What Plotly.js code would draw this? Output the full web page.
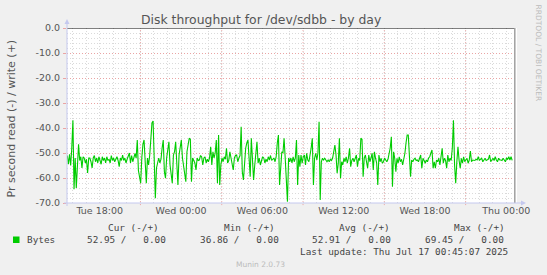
<!DOCTYPE html>
<html>
<head>
<meta charset="utf-8">
<script src="https://cdn.plot.ly/plotly-3.0.1.min.js"></script>
<style>html,body{margin:0;padding:0;background:#F0F0F0;}#chart{width:547px;height:275px;}</style>
</head>
<body>
<div id="chart"></div>
<script>
// ---- data ----
var seriesStart = '2025-07-15T15:36:00Z';
var stepMinutes = 5;
var readValues = [
-51, -54.5, -50.5, -55, -48, -36.9, -64.5, -52, -64, -53,
-46.5, -53, -51.5, -56, -51.5, -52, -54, -52.5, -58, -52,
-52, -53.5, -56, -52, -51, -53.5, -52, -54, -51.5, -53,
-54.5, -51.5, -53, -52, -54, -51.5, -53, -52.5, -54, -51,
-53, -52, -53.5, -52.5, -51.5, -53, -55.5, -52, -53, -50.8,
-53, -52, -54, -52.5, -51, -50, -54, -51, -53.5, -52,
-50.2, -52, -44.8, -57, -60, -62.1, -52, -46.5, -44.8, -53.5,
-62.1, -52, -54.8, -51, -42.8, -38, -37.2, -54.8, -68.1, -56,
-53.5, -52, -54, -52.5, -48, -44.8, -57.5, -60.1, -52, -48,
-45.5, -54.8, -58, -62.1, -50.8, -49.5, -45.5, -54.8, -62.8, -50.8,
-48, -44.8, -52, -54.8, -57, -61.5, -49.5, -45.5, -44.1, -44.5,
-61.5, -52, -53.5, -54, -56.8, -52, -53, -52.8, -51, -51.5,
-54.8, -52, -51.5, -54, -52.5, -53.5, -52, -47.5, -54.8, -49.5,
-52, -50, -44.8, -62.1, -42.8, -62.8, -54.8, -52, -53.5, -51.5,
-52.5, -48.1, -54, -53, -49.5, -52, -54, -56.8, -52, -51,
-50.8, -53.5, -52, -51, -39.5, -57.5, -60.8, -54.1, -48.1, -46,
-44.8, -52, -59.5, -44.1, -54.8, -60.8, -55, -48.1, -45.5, -54.1,
-52, -54.8, -53.5, -51.5, -52, -54, -52.5, -53.5, -51.5, -52.8,
-51, -53, -52.5, -52, -53.5, -51.5, -46, -42.8, -62.8, -53.5,
-49.5, -50, -44.1, -52, -60, -69.45, -52, -53.5, -52, -54,
-51.5, -53.5, -52, -44.8, -62.8, -50.8, -55.5, -50.8, -54.1, -51.5,
-50.8, -54.8, -50.1, -52.8, -53.5, -51, -48, -44.1, -62.8, -52.1,
-50.1, -52.8, -50, -37.5, -68.8, -53.5, -52.1, -52.8, -52.1, -52.8,
-53.5, -52.8, -53.5, -52.5, -53, -52, -50, -46.8, -50.8, -58.1,
-54.1, -44.1, -60.1, -53.5, -54.8, -52.1, -53.5, -51.5, -54.1, -52,
-48.1, -55.5, -53, -52.1, -53.5, -52, -50.8, -55.5, -52.1, -53,
-44.1, -44.5, -59.5, -52, -50.8, -53.5, -56.1, -50.8, -53.5, -52,
-50.1, -56.8, -49.5, -52.1, -54, -62.8, -50.8, -53.5, -52.1, -54.1,
-53.5, -52.1, -53, -53.5, -52.5, -50.8, -48, -43.5, -63.5, -49.5,
-52.1, -57.5, -52.1, -54.1, -51.5, -53.5, -52.5, -54.8, -53, -50.1,
-46, -42.8, -42.8, -55, -59.5, -52.8, -53.5, -52.5, -52.1, -53,
-52.8, -53.5, -52, -50.8, -56.1, -52.1, -53, -54.1, -52.8, -53.5,
-52, -51.5, -50, -48.8, -56.1, -53.5, -56.1, -52.8, -53.5, -52.1,
-54.8, -51, -48.1, -54.1, -52.1, -53, -56.1, -50.8, -53.5, -52.1,
-53, -48, -36.86, -54.8, -62.1, -53.5, -47.5, -53, -56.1, -52.1,
-54.1, -51.5, -53.5, -52.8, -52.1, -54.1, -52.8, -49.2, -53.5, -52.8,
-52.8, -53, -52.5, -52.8, -51.5, -53, -52.5, -52.1, -53.5, -52.8,
-52.1, -53, -52.8, -52.5, -50.8, -53.5, -52.8, -52.1, -53, -51.5,
-52.8, -53.5, -52.1, -52.8, -52.8, -53, -52.1, -52.8, -53.5, -52.1,
-52.5, -51.5, -52.8, -51.5, -52.95
];
var xRange = ['2025-07-15 15:34:48', '2025-07-17 00:47:24'];
var xTickStart = '2025-07-15 18:00';
var redGridStart = '2025-07-15T21:00:00Z';
var yTickLabels = ['0.0','-10.0','-20.0','-30.0','-40.0','-50.0','-60.0','-70.0'];
var yTickVals = [0,-10,-20,-30,-40,-50,-60,-70];
var seriesName = 'Bytes';
var statHeaders = ['Cur (-/+)', 'Min (-/+)', 'Avg (-/+)', 'Max (-/+)'];
var statRead = [52.95, 36.86, 52.91, 69.45];
var statWrite = [0.00, 0.00, 0.00, 0.00];
var titleText = 'Disk throughput for /dev/sdbb - by day';
var yTitleText = 'Pr second read (-) / write (+)';
var lastUpdate = 'Last update: Thu Jul 17 00:45:07 2025';
var footer = 'Munin 2.0.73';
var sideText = 'RRDTOOL / TOBI OETIKER';

// ---- build ----
function fmt(ms){ return new Date(ms).toISOString().slice(0,19).replace('T',' '); }
var t0 = Date.parse(seriesStart);
var xs = readValues.map(function(v,i){ return fmt(t0 + i*stepMinutes*60000); });

var W = 547, H = 275, L = 67, R = 517, T = 28, B = 203;
function px(x){ return (x - L)/(R - L); }
function py(y){ return (B - y)/(B - T); }

var shapes = [];
var endMs = Date.parse(xRange[1].replace(' ','T')+'Z');
for (var m = Date.parse(redGridStart); m < endMs; m += 6*3600000) {
  shapes.push({type:'line', xref:'x', yref:'paper', x0:fmt(m), x1:fmt(m), y0:-0.012, y1:1,
    line:{color:'#eaa4a4', width:1, dash:'1px,2px'}, layer:'below'});
}
shapes.push({type:'line', xref:'paper', yref:'y', x0:0, x1:px(515), y0:0, y1:0, line:{color:'#000000', width:1}});
shapes.push({type:'line', xref:'paper', yref:'paper', x0:px(514.8), x1:px(514.8), y0:0, y1:1, line:{color:'#a0a0a0', width:1.5}});
var axc = '#c4c8ee';
shapes.push({type:'line', xref:'paper', yref:'paper', x0:px(67), x1:px(67), y0:py(206), y1:py(22), line:{color:axc, width:1}});
shapes.push({type:'path', xref:'paper', yref:'paper', path:'M '+px(64.5)+' '+py(24)+' L '+px(67)+' '+py(19)+' L '+px(69.5)+' '+py(24)+' Z', fillcolor:axc, line:{width:0}});
shapes.push({type:'line', xref:'paper', yref:'paper', x0:px(64), x1:px(522), y0:py(203), y1:py(203), line:{color:axc, width:1}});
shapes.push({type:'path', xref:'paper', yref:'paper', path:'M '+px(521)+' '+py(200.5)+' L '+px(526)+' '+py(203)+' L '+px(521)+' '+py(205.5)+' Z', fillcolor:axc, line:{width:0}});
shapes.push({type:'rect', xref:'paper', yref:'paper', x0:px(13), x1:px(19.5), y0:py(243), y1:py(236.5), fillcolor:'#00cc00', line:{width:0}});

var mono = 'DejaVu Sans Mono, monospace';
var tc = '#444444';
var ann = [];
function A(text, x, y, opts){
  var a = {text:text, xref:'paper', yref:'paper', x:px(x), y:py(y), showarrow:false,
    xanchor:'left', yanchor:'middle', font:{family:mono, size:9.35, color:tc}};
  for (var k in opts) a[k] = opts[k];
  ann.push(a);
}
var NB = '\u00a0';
function pad(s, n){ while (s.length < n) s = NB + s; return s; }
var headX = [106, 222, 337, 452];
var valX = [85, 198, 310, 423];
for (var i = 0; i < statHeaders.length; i++) {
  A(statHeaders[i].replace(/ /g, NB), headX[i], 227.7);
  A(statRead[i].toFixed(2) + NB + '/' + pad(statWrite[i].toFixed(2), 7), valX[i], 239.7);
}
A(seriesName, 25, 239.7);
A(lastUpdate.replace(/ /g, NB), 298, 251);
A(footer, 260.5, 264, {xanchor:'center', font:{family:'DejaVu Sans', size:7.5, color:'#bbbbbb'}});
A(titleText, 260.5, 19.5, {xanchor:'center', font:{family:'DejaVu Sans', size:12.4, color:'#555555'}});
A(yTitleText, 10.5, 119, {xanchor:'center', textangle:-90, font:{family:'DejaVu Sans', size:11, color:'#555555'}});
A(sideText, 538.5, 53, {xanchor:'center', textangle:90, font:{family:'DejaVu Sans', size:7.5, color:'#bbbbbb'}});

var trace = {x: xs, y: readValues, type:'scatter', mode:'lines', name: seriesName,
  line:{color:'#00cc00', width:1.1}, hoverinfo:'skip'};

var layout = {
  width: W, height: H,
  margin: {l: L, r: W - R, t: T, b: H - B, pad: 0},
  paper_bgcolor: '#F0F0F0', plot_bgcolor: '#FFFFFF',
  showlegend: false,
  font: {family: 'DejaVu Sans', color: '#555555'},
  xaxis: {
    type: 'date', range: xRange, tick0: xTickStart, dtick: 6*3600000,
    tickformat: '%a %H:%M', tickfont: {size: 9.5, color: '#555555'},
    showgrid: true, gridcolor: '#dadada', griddash: '1px,2px', gridwidth: 1,
    minor: {dtick: 3600000, tick0: xTickStart, showgrid: true, gridcolor: '#dadada', griddash: '1px,2px', gridwidth: 1},
    showline: false, zeroline: false, ticks: '', fixedrange: true
  },
  yaxis: {
    range: [-70, 0], tickvals: yTickVals, ticktext: yTickLabels,
    tickfont: {size: 9.5, color: '#555555'},
    showgrid: true, gridcolor: '#eaa4a4', griddash: '1px,2px', gridwidth: 1,
    minor: {dtick: 2, showgrid: true, gridcolor: '#dadada', griddash: '1px,2px', gridwidth: 1},
    showline: false, zeroline: false, ticks: 'outside', ticklen: 3, tickcolor: '#eaa4a4',
    ticklabelstandoff: 1, fixedrange: true
  },
  shapes: shapes,
  annotations: ann
};
Plotly.newPlot('chart', [trace], layout, {staticPlot: true, displayModeBar: false});
</script>
</body>
</html>
